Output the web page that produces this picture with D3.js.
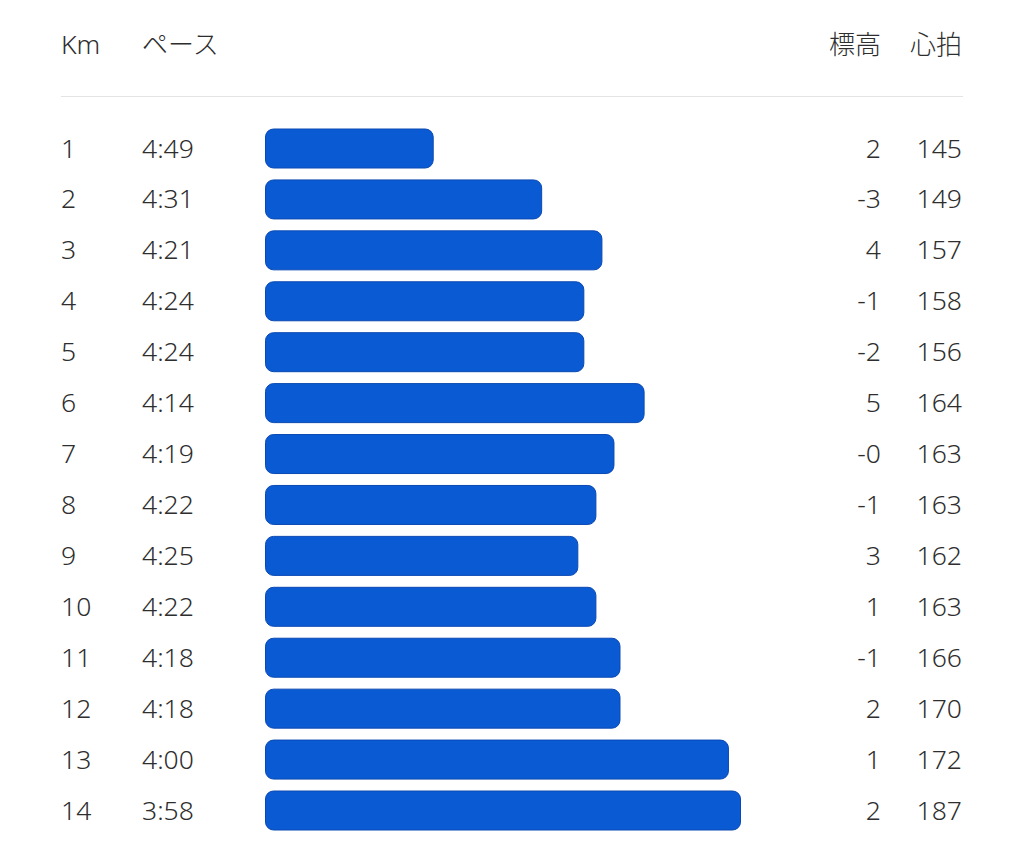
<!DOCTYPE html>
<html>
<head>
<meta charset="utf-8">
<script src="https://cdn.jsdelivr.net/npm/d3@7"></script>
<style>
  body { margin: 0; background: #fff; }
  text { font-family: "Noto Sans", "Noto Sans CJK JP", sans-serif; font-weight: 300; fill: #2e2e2e; font-size: 26.5px; }
  text.jp { font-family: "Noto Sans CJK JP", sans-serif; font-size: 26px; }
</style>
</head>
<body>
<script>
// split data
var km = [1, 2, 3, 4, 5, 6, 7, 8, 9, 10, 11, 12, 13, 14];
var pace = ["4:49", "4:31", "4:21", "4:24", "4:24", "4:14", "4:19", "4:22", "4:25", "4:22", "4:18", "4:18", "4:00", "3:58"];
var elev = ["2", "-3", "4", "-1", "-2", "5", "-0", "-1", "3", "1", "-1", "2", "1", "2"];
var hr = [145, 149, 157, 158, 156, 164, 163, 163, 162, 163, 166, 170, 172, 187];
var headers = ["Km", "ペース", "標高", "心拍"];

var w = 1024, h = 861;

var svg = d3.select("body")
    .append("svg")
    .attr("width", w)
    .attr("height", h);

function toSec(p) {
    var parts = p.split(":");
    return +parts[0] * 60 + +parts[1];
}

var rows = km.map(function(d, i) {
    return { km: d, pace: pace[i], sec: toSec(pace[i]), elev: elev[i], hr: hr[i] };
});

// row position (center of each row)
var y = d3.scalePoint()
    .domain(km)
    .range([148.5, 810.5]);

// faster pace -> longer bar
var x = d3.scaleLinear()
    .domain([317, 238])
    .range([265, 741]);

var barH = 39;

// header
svg.append("text").attr("x", 61).attr("y", 54).text(headers[0]);
svg.append("text").attr("class", "jp").attr("x", 142).attr("y", 54).text(headers[1]);
svg.append("text").attr("class", "jp").attr("x", 881).attr("y", 54).attr("text-anchor", "end").text(headers[2]);
svg.append("text").attr("class", "jp").attr("x", 962).attr("y", 54).attr("text-anchor", "end").text(headers[3]);

svg.append("line")
    .attr("x1", 61).attr("x2", 963)
    .attr("y1", 96.5).attr("y2", 96.5)
    .style("stroke", "#e4e4e4")
    .style("stroke-width", 1);

var row = svg.selectAll(".row")
    .data(rows)
    .enter()
    .append("g")
    .attr("class", "row")
    .attr("transform", function(d) { return "translate(0," + y(d.km) + ")"; });

row.append("rect")
    .attr("x", x(317) + 0.5)
    .attr("y", -barH / 2)
    .attr("width", function(d) { return x(d.sec) - x(317) - 1; })
    .attr("height", barH)
    .attr("rx", 8)
    .style("fill", "#0a5bd3")
    .style("stroke", "#0a48b3")
    .style("stroke-width", 1);

row.append("text").attr("x", 61).attr("y", 9).text(function(d) { return d.km; });
row.append("text").attr("x", 142).attr("y", 9).text(function(d) { return d.pace; });
row.append("text").attr("x", 881).attr("y", 9).attr("text-anchor", "end").text(function(d) { return d.elev; });
row.append("text").attr("x", 962).attr("y", 9).attr("text-anchor", "end").text(function(d) { return d.hr; });
</script>
</body>
</html>
